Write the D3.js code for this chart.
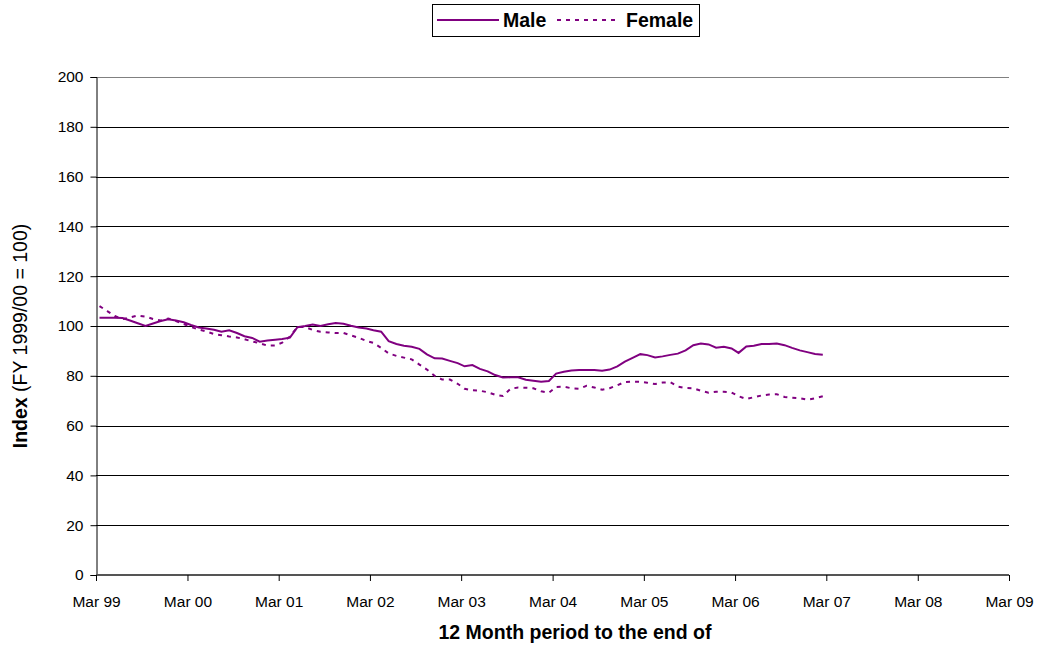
<!DOCTYPE html>
<html>
<head>
<meta charset="utf-8">
<script src="https://cdn.jsdelivr.net/npm/d3@7"></script>
<style>
  body { margin: 0; background: #fff; }
  svg { font-family: "Liberation Sans", Arial, sans-serif; }
</style>
</head>
<body>
<div id="chart"></div>
<script>
// monthly index values, Mar 99 .. Feb 07
const male = [
  103.3, 103.3, 103.3, 103.2, 102.2, 101.1, 100.0, 101.0, 102.0, 102.7, 102.2, 101.5,
  100.4, 99.4, 99.0, 98.5, 97.7, 98.3, 97.2, 95.9, 95.2, 93.7, 94.2, 94.5,
  94.8, 95.3, 99.5, 100.0, 100.6, 100.0, 100.7, 101.2, 100.9, 100.1, 99.4, 99.0,
  98.3, 97.7, 93.9, 92.8, 92.1, 91.7, 90.8, 88.6, 87.0, 86.9, 86.0, 85.1,
  83.8, 84.3, 82.8, 81.8, 80.3, 79.3, 79.4, 79.4, 78.4, 78.0, 77.6, 77.9,
  80.9, 81.6, 82.1, 82.3, 82.3, 82.3, 82.0, 82.5, 83.8, 85.7, 87.2, 88.7,
  88.3, 87.4, 87.8, 88.4, 88.9, 90.2, 92.3, 93.0, 92.6, 91.3, 91.7, 91.0,
  89.2, 91.8, 92.1, 92.8, 92.8, 93.0, 92.3, 91.2, 90.2, 89.5, 88.8, 88.5
];
const female = [
  108.0, 106.0, 104.0, 102.8, 103.4, 104.2, 103.8, 102.8, 102.2, 103.0, 102.0, 100.8,
  99.6, 98.6, 97.8, 96.8, 96.3, 95.8, 95.4, 94.7, 93.8, 93.1, 92.1, 92.2,
  93.3, 95.8, 99.6, 99.6, 98.4, 97.7, 97.4, 97.2, 97.2, 96.2, 95.3, 94.0,
  93.2, 91.2, 89.0, 88.0, 87.3, 86.6, 84.5, 82.5, 80.0, 78.5, 78.5, 76.8,
  74.8, 74.2, 74.0, 73.4, 72.4, 71.9, 74.8, 75.3, 75.2, 75.0, 73.8, 73.2,
  75.5, 75.6, 75.0, 74.8, 76.0, 75.3, 74.4, 75.0, 76.2, 77.5, 77.6, 77.6,
  77.2, 76.7, 77.3, 77.4, 75.7, 75.1, 75.0, 74.0, 73.2, 73.6, 73.6, 73.3,
  71.8, 70.7, 71.4, 72.1, 72.5, 72.6, 71.5, 71.2, 71.0, 70.4, 71.0, 71.8
];
const months = male.map((d, i) => new Date(1999, 2 + i, 15));
const xTickYears = [1999, 2000, 2001, 2002, 2003, 2004, 2005, 2006, 2007, 2008, 2009];
const yTicks = [0, 20, 40, 60, 80, 100, 120, 140, 160, 180, 200];

const width = 1044, height = 645;
const plotLeft = 96, plotRight = 1009, plotTop = 77, plotBottom = 575;
const color = '#800080';
const font = '"Liberation Sans", Arial, sans-serif';

const svg = d3.select('#chart').append('svg')
  .attr('width', width)
  .attr('height', height);

const x = d3.scaleTime()
  .domain([new Date(1999, 2, 1), new Date(2009, 2, 1)])
  .range([plotLeft, plotRight]);

const y = d3.scaleLinear()
  .domain([0, 200])
  .range([plotBottom, plotTop]);

// gridlines
svg.append('g')
  .selectAll('line')
  .data(yTicks.filter(d => d > 0))
  .enter()
  .append('line')
  .attr('x1', plotLeft)
  .attr('x2', plotRight)
  .attr('y1', d => Math.round(y(d)) + 0.5)
  .attr('y2', d => Math.round(y(d)) + 0.5)
  .attr('stroke', d => d == 200 ? '#808080' : '#000')
  .attr('stroke-width', 1);

// y axis
const yAxis = d3.axisLeft(y).tickValues(yTicks).tickSize(6).tickPadding(7);
svg.append('g')
  .attr('transform', `translate(${plotLeft + 0.5},0)`)
  .call(yAxis)
  .call(g => g.select('.domain').attr('stroke', '#000'))
  .call(g => g.selectAll('.tick line').attr('stroke', '#000'))
  .call(g => g.selectAll('text').attr('font-size', 15.5).attr('fill', '#000')
    .attr('font-family', font));

// x axis
const xAxis = d3.axisBottom(x)
  .tickValues(xTickYears.map(yr => new Date(yr, 2, 1)))
  .tickFormat(d3.timeFormat('Mar %y'))
  .tickSize(6)
  .tickPadding(15);
svg.append('g')
  .attr('transform', `translate(0,${plotBottom})`)
  .call(xAxis)
  .call(g => g.select('.domain').attr('stroke', '#555').attr('stroke-width', 2).attr('d', `M${plotLeft},0H${plotRight}`))
  .call(g => g.selectAll('.tick line').attr('stroke', '#000'))
  .call(g => g.selectAll('text').attr('font-size', 15.5).attr('fill', '#000')
    .attr('font-family', font));

// series
const line = d3.line()
  .x((d, i) => x(months[i]))
  .y(d => y(d));

svg.append('path')
  .datum(male)
  .attr('d', line)
  .attr('fill', 'none')
  .attr('stroke', color)
  .attr('stroke-width', 2);

svg.append('path')
  .datum(female)
  .attr('d', line)
  .attr('fill', 'none')
  .attr('stroke', color)
  .attr('stroke-width', 2)
  .attr('stroke-dasharray', '4,5');

// axis titles
const yTitle = svg.append('text')
  .attr('transform', `translate(27,336) rotate(-90)`)
  .attr('text-anchor', 'middle')
  .attr('font-size', 19.5)
  .attr('fill', '#000');
yTitle.append('tspan').attr('font-weight', 'bold').text('Index');
yTitle.append('tspan').text(' (FY 1999/00 = 100)');

svg.append('text')
  .attr('x', 575)
  .attr('y', 639)
  .attr('text-anchor', 'middle')
  .attr('font-size', 19.5)
  .attr('font-weight', 'bold')
  .attr('fill', '#000')
  .text('12 Month period to the end of');

// legend
const legend = svg.append('g');
legend.append('rect')
  .attr('x', 432.5).attr('y', 4.5)
  .attr('width', 267).attr('height', 32)
  .attr('fill', '#fff').attr('stroke', '#000');

const items = [
  { name: 'Male', dash: null, x0: 437, x1: 499, tx: 503 },
  { name: 'Female', dash: '4,5', x0: 557, x1: 615, tx: 626 }
];
items.forEach(it => {
  legend.append('line')
    .attr('x1', it.x0).attr('x2', it.x1)
    .attr('y1', 20).attr('y2', 20)
    .attr('stroke', color).attr('stroke-width', 2)
    .attr('stroke-dasharray', it.dash);
  legend.append('text')
    .attr('x', it.tx).attr('y', 27)
    .attr('font-size', 19.5)
    .attr('font-weight', 'bold')
    .attr('fill', '#000')
    .text(it.name);
});
</script>
</body>
</html>
